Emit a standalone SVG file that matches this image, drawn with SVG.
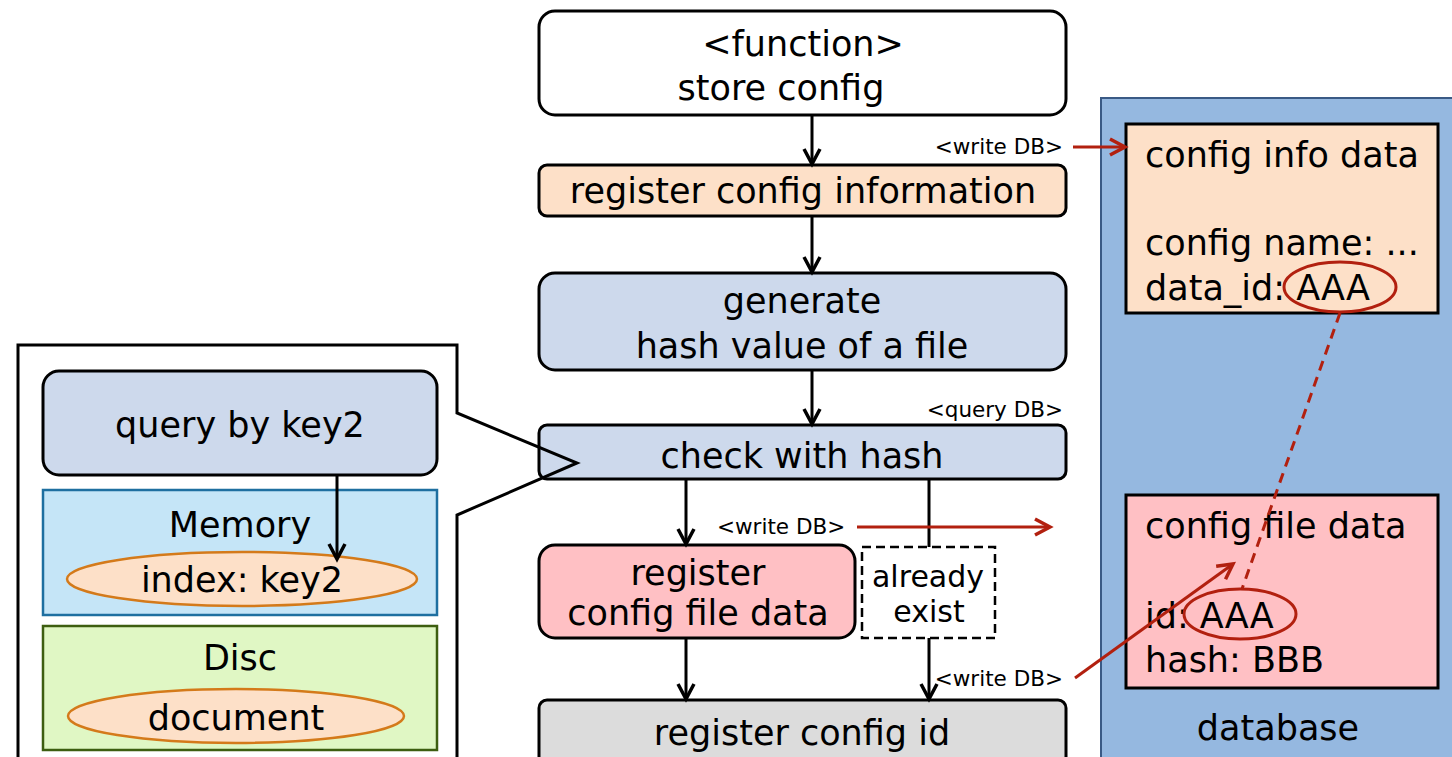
<svg xmlns="http://www.w3.org/2000/svg" width="1452" height="757" viewBox="0 0 1452 757">
<defs>
<style>
text{font-family:"DejaVu Sans","Noto Sans",sans-serif;fill:#000}
.t{font-size:35px}
.m{font-size:30px}
.s{font-size:21.5px}
.c{text-anchor:middle}
.e{text-anchor:end}
.box{stroke:#000;stroke-width:3}
.blk{stroke:#000;stroke-width:3;fill:none}
.red{stroke:#b2200f;stroke-width:3;fill:none}
</style>
<marker id="ab" markerUnits="userSpaceOnUse" markerWidth="24" markerHeight="24" viewBox="0 0 24 24" refX="20" refY="12" orient="auto">
<path d="M5,4 L20,12 L5,20" fill="none" stroke="#000" stroke-width="3.5"/>
</marker>
<marker id="ar" markerUnits="userSpaceOnUse" markerWidth="24" markerHeight="24" viewBox="0 0 24 24" refX="20" refY="12" orient="auto">
<path d="M5,4 L20,12 L5,20" fill="none" stroke="#b2200f" stroke-width="3.5"/>
</marker>
</defs>
<rect width="1452" height="757" fill="#fff"/>

<g id="database">
<rect x="1101" y="98" width="360" height="670" fill="#95b8e0" stroke="#3a5a85" stroke-width="2"/>
<text class="t c" x="1278" y="740">database</text>
</g>
<g id="config-info-data">
<rect x="1126" y="124" width="312" height="189" fill="#fde0c8" class="box"/>
<text class="t" x="1145" y="167">config info data</text>
<text class="t" x="1145" y="255">config name: ...</text>
<text class="t" x="1145" y="300">data_id: AAA</text>
<ellipse cx="1340" cy="287" rx="56" ry="25" fill="none" stroke="#b2200f" stroke-width="3"/>
</g>
<g id="config-file-data">
<rect x="1126" y="495" width="312" height="193" fill="#ffc0c4" class="box"/>
<text class="t" x="1145" y="538">config file data</text>
<text class="t" x="1145" y="628">id: AAA</text>
<text class="t" x="1145" y="672">hash: BBB</text>
<ellipse cx="1240" cy="614" rx="56" ry="25" fill="none" stroke="#b2200f" stroke-width="3"/>
</g>

<g id="query-by-key2">
<rect x="43" y="371" width="394" height="104" rx="16" fill="#cdd9ec" class="box"/>
<text class="t c" x="240" y="437">query by key2</text>
</g>
<g id="memory">
<rect x="43" y="490" width="394" height="125" fill="#c5e5f7" stroke="#1e6fa0" stroke-width="2.5"/>
<text class="t c" x="240" y="537">Memory</text>
<ellipse cx="242" cy="579" rx="175" ry="27" fill="#fde0c8" stroke="#d47a1a" stroke-width="2.5"/>
<text class="t c" x="242" y="592">index: key2</text>
</g>
<g id="disc">
<rect x="43" y="626" width="394" height="124" fill="#e0f7c4" stroke="#3d5e10" stroke-width="2.5"/>
<text class="t c" x="240" y="670">Disc</text>
<ellipse cx="236" cy="716" rx="168" ry="27" fill="#fde0c8" stroke="#d47a1a" stroke-width="2.5"/>
<text class="t c" x="236" y="730">document</text>
</g>

<g id="store-config">
<rect x="539" y="11" width="527" height="104" rx="16" fill="#fff" class="box"/>
<text class="t c" x="803" y="56">&lt;function&gt;</text>
<text class="t c" x="781" y="100">store config</text>
</g>
<g id="register-config-information">
<rect x="539" y="165" width="527" height="51" rx="8" fill="#fde0c8" class="box"/>
<text class="t c" x="803" y="203">register config information</text>
</g>
<g id="generate-hash">
<rect x="539" y="273" width="527" height="97" rx="16" fill="#cdd9ec" class="box"/>
<text class="t c" x="802" y="313">generate</text>
<text class="t c" x="802" y="358">hash value of a file</text>
</g>
<g id="check-with-hash">
<rect x="539" y="425" width="527" height="54" rx="8" fill="#cdd9ec" class="box"/>
<text class="t c" x="802" y="468">check with hash</text>
</g>
<g id="register-config-file-data">
<rect x="539" y="545" width="316" height="93" rx="16" fill="#ffc0c4" class="box"/>
<text class="t c" x="698" y="585">register</text>
<text class="t c" x="698" y="625">config file data</text>
</g>
<g id="already-exist">
<rect x="862" y="547" width="133" height="91" fill="#fff" stroke="#000" stroke-width="2.5" stroke-dasharray="9,5"/>
<text class="m c" x="928" y="587">already</text>
<text class="m c" x="929" y="622">exist</text>
</g>
<g id="register-config-id">
<rect x="539" y="700" width="527" height="80" rx="8" fill="#dcdcdc" class="box"/>
<text class="t c" x="802" y="745">register config id</text>
</g>

<g id="callout">
<path d="M457,760 L457,515 L577,463 L457,413 L457,345 L18,345 L18,760" fill="none" stroke="#000" stroke-width="3"/>
</g>

<g id="connectors">
<line class="blk" x1="812" y1="115" x2="812" y2="164" marker-end="url(#ab)"/>
<line class="blk" x1="812" y1="216" x2="812" y2="272" marker-end="url(#ab)"/>
<line class="blk" x1="812" y1="370" x2="812" y2="424" marker-end="url(#ab)"/>
<line class="blk" x1="686" y1="479" x2="686" y2="544" marker-end="url(#ab)"/>
<line class="blk" x1="929" y1="479" x2="929" y2="547"/>
<line class="blk" x1="686" y1="638" x2="686" y2="699" marker-end="url(#ab)"/>
<line class="blk" x1="929" y1="638" x2="929" y2="699" marker-end="url(#ab)"/>
<line class="blk" x1="337" y1="475" x2="337" y2="559" marker-end="url(#ab)"/>
<line class="red" x1="1073" y1="147" x2="1125" y2="147" marker-end="url(#ar)"/>
<line class="red" x1="857" y1="527" x2="1050" y2="527" marker-end="url(#ar)"/>
<line class="red" x1="1075" y1="678" x2="1233" y2="564" marker-end="url(#ar)"/>
<line class="red" x1="1340" y1="313" x2="1242" y2="589" stroke-dasharray="10,7"/>
<text class="s e" x="1063" y="154">&lt;write DB&gt;</text>
<text class="s e" x="1063" y="417">&lt;query DB&gt;</text>
<text class="s" x="717" y="534">&lt;write DB&gt;</text>
<text class="s e" x="1063" y="686">&lt;write DB&gt;</text>
</g>
</svg>
